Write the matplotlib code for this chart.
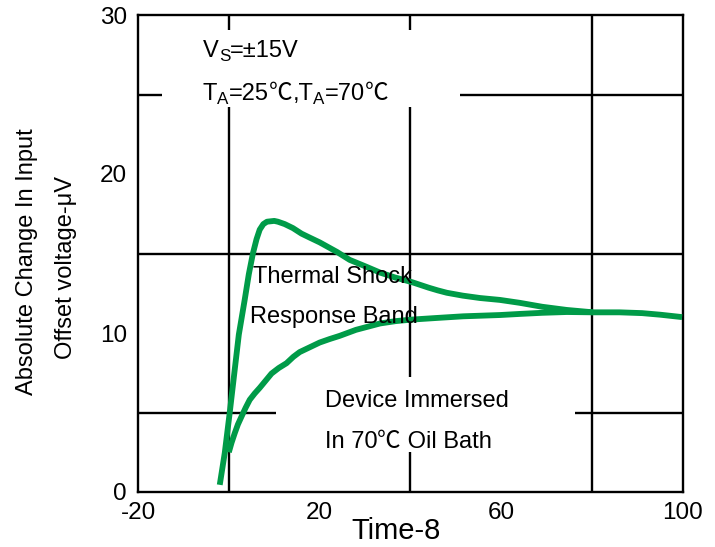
import numpy as np
import matplotlib
matplotlib.use("Agg")
import matplotlib.pyplot as plt
from matplotlib.patches import Rectangle
from matplotlib.transforms import ScaledTranslation

plt.rcParams['font.family'] = ['Liberation Sans', 'Noto Sans CJK SC', 'DejaVu Sans']
plt.rcParams['axes.unicode_minus'] = False

# Thermal shock response: upper (overshoot) and lower (slow settling) edges of the band
upper_t = [-2.0, -0.9, 0.2, 1.3, 2.2, 3.5, 4.4, 5.3, 6.1, 6.8, 7.6, 8.4, 10.0, 10.8,
           12.3, 14.1, 16.0, 17.8, 20.0, 23.8, 26.6, 30.0, 33.3, 36.5, 40.3, 44.0,
           46.0, 48.0, 51.5, 55.3, 59.7, 64.0, 69.0, 74.4, 80.2, 86.0, 91.0, 95.0, 99.8]
upper_v = [0.45, 2.45, 5.0, 7.7, 9.9, 12.1, 13.7, 15.0, 15.9, 16.5, 16.85, 17.0, 17.05, 17.0,
           16.85, 16.6, 16.25, 16.0, 15.7, 15.1, 14.6, 14.2, 13.8, 13.5, 13.2, 12.85,
           12.68, 12.53, 12.35, 12.2, 12.08, 11.9, 11.65, 11.45, 11.3, 11.3, 11.25, 11.15, 11.0]

lower_t = [0.0, 0.6, 1.3, 2.0, 2.8, 3.7, 4.6, 5.7, 6.8, 8.1, 9.4, 11.0, 12.7, 14.2,
           15.6, 17.8, 20.0, 22.2, 24.4, 28.0, 33.3, 36.8, 40.6, 46.0, 51.6, 59.7,
           64.1, 69.0, 74.4, 80.2]
lower_v = [2.5, 3.1, 3.7, 4.25, 4.75, 5.3, 5.8, 6.2, 6.55, 7.0, 7.45, 7.8, 8.1, 8.5,
           8.8, 9.1, 9.4, 9.62, 9.82, 10.2, 10.6, 10.75, 10.85, 10.95, 11.05, 11.13,
           11.2, 11.27, 11.32, 11.3]

x_ticks = [-20, 20, 60, 100]
y_ticks = [0, 10, 20, 30]

GREEN = '#009B48'
CJK = 'Noto Sans CJK SC'

fig = plt.figure(figsize=(7.15, 5.47), dpi=100)
ax = fig.add_axes([138 / 715, 55 / 547, 545 / 715, 477 / 547])

ax.set_xlim(-20, 100)
ax.set_ylim(0, 30)
ax.set_xticks(x_ticks)
ax.set_xticklabels([str(v) for v in x_ticks])
ax.set_yticks(y_ticks)
ax.set_yticklabels([str(v) for v in y_ticks])
ax.set_xticks(np.arange(-20, 101, 20), minor=True)
ax.set_yticks(np.arange(0, 31, 5), minor=True)
ax.tick_params(which='both', length=0)
ax.tick_params(axis='x', which='major', labelsize=17.5, pad=7)
ax.tick_params(axis='y', which='major', labelsize=17.5, pad=8)
ax.set_axisbelow(True)
ax.grid(which='minor', color='black', linewidth=1.7)
for s in ax.spines.values():
    s.set_linewidth(1.7)
    s.set_color('black')

# white panels behind the annotations
for (x0, y0, w, h) in [(-14.8, 24.2, 65.7, 4.86),
                       (18.5, 10.38, 3.0, 3.9),
                       (10.35, 2.52, 65.85, 4.71)]:
    ax.add_patch(Rectangle((x0, y0), w, h, facecolor='white', edgecolor='none', zorder=1))

ax.plot(upper_t, upper_v, color=GREEN, lw=4.2, solid_capstyle='butt',
        solid_joinstyle='round', zorder=3)
ax.plot(lower_t, lower_v, color=GREEN, lw=4.2, solid_capstyle='butt',
        solid_joinstyle='round', zorder=3)

ax.set_xlabel('Time-8', fontsize=21)
ax.xaxis.set_label_coords(0.473, -0.099)
ax.xaxis.label.set_va('baseline')

fig.text(33 / 715, 1 - 262 / 547, 'Absolute Change In Input', fontsize=17,
         rotation=90, rotation_mode='anchor', ha='center', va='baseline')
fig.text(72 / 715, 1 - 268 / 547, 'Offset voltage-μV', fontsize=17,
         rotation=90, rotation_mode='anchor', ha='center', va='baseline')


def run_text(x, y, parts, size):
    """Draw text pieces one after another.

    Each piece is (string, kind) where kind is 'n' (normal), 's' (subscript)
    or 'c' (set in the CJK face, used for the degree-Celsius sign).
    """
    renderer = fig.canvas.get_renderer()
    dx = 0.0
    for s, kind in parts:
        fs = size * 0.72 if kind == 's' else size
        dy = -3.0 / 72 if kind == 's' else 0.0
        fam = [CJK] if kind == 'c' else None
        tr = ax.transData + ScaledTranslation(dx, dy, fig.dpi_scale_trans)
        t = ax.text(x, y, s, fontsize=fs, va='baseline', ha='left',
                    transform=tr, zorder=4, family=fam)
        dx += t.get_window_extent(renderer).width / fig.dpi


TXT = 17
ax.text(5.3, 13.14, 'Thermal Shock', fontsize=TXT, va='baseline', zorder=4)
ax.text(4.6, 10.63, 'Response Band', fontsize=TXT, va='baseline', zorder=4)
ax.text(21.1, 5.37, 'Device Immersed', fontsize=TXT, va='baseline', zorder=4)
run_text(21.1, 2.77, [('In 70', 'n'), ('℃', 'c'), (' Oil Bath', 'n')], TXT)

run_text(-5.7, 27.36, [('V', 'n'), ('S', 's'), ('=±15V', 'n')], 17)
run_text(-5.7, 24.65, [('T', 'n'), ('A', 's'), ('=25', 'n'), ('℃', 'c'), (',T', 'n'),
                       ('A', 's'), ('=70', 'n'), ('℃', 'c')], 17)

fig.savefig('out.png', dpi=100)
